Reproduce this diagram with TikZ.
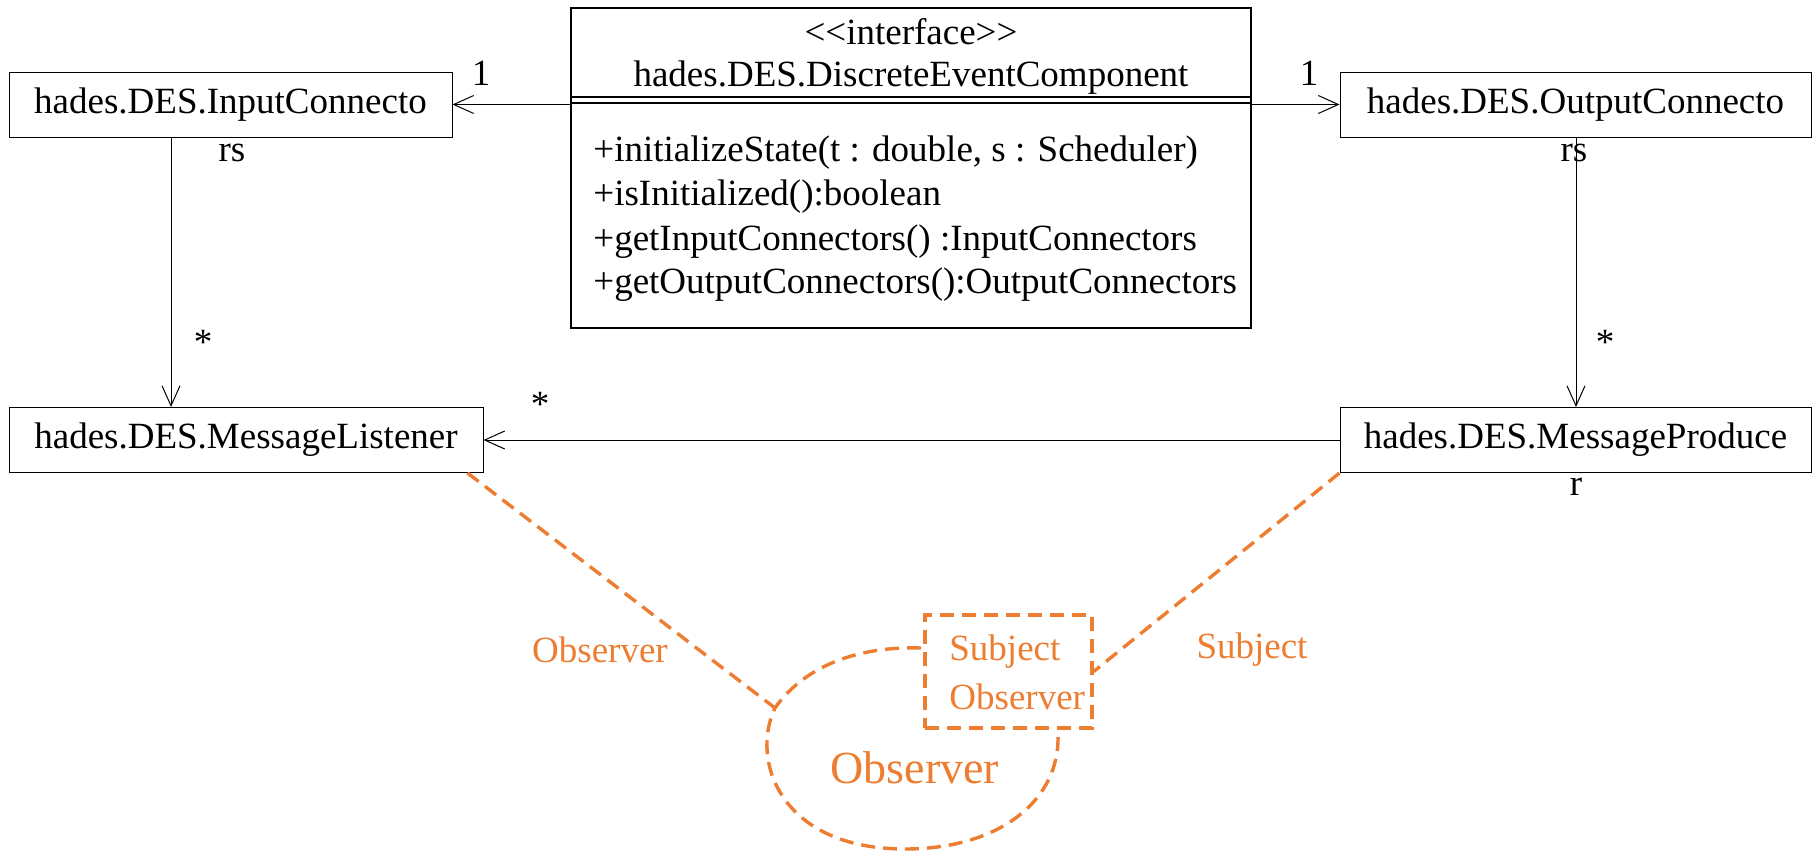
\documentclass[tikz,border=0pt]{standalone}
\usepackage{fontspec}
\setmainfont{Liberation Serif}
\usetikzlibrary{arrows.meta}
\definecolor{obs}{HTML}{ED7D31}
\begin{document}
\begin{tikzpicture}[x=0.5pt,y=-0.5pt,
  every node/.style={font=\fontsize{18.5}{22}\selectfont, inner sep=0pt},
  cls/.style={draw, line width=0.5pt, minimum height=32.5pt, inner sep=0pt},
  conn/.style={line width=0.5pt, -{Straight Barb[length=10pt,width=9pt]}},
  pat/.style={draw=obs, line width=1.7pt, dash pattern=on 7pt off 4pt},
  plabel/.style={text=obs},
]
\useasboundingbox (0,0) rectangle (1817,851);

% interface box
\node[draw, line width=1.1pt, minimum width=340pt, minimum height=160pt] (iface) at (911,168) {};
\node (st) at (911,32) {<\kern0pt<interface>\kern0pt>};
\node (ttl) at (911,78) {hades.DES.DiscreteEventComponent};
\coordinate (d1) at (0,97);
\coordinate (d2) at (0,103);
\draw[line width=1.1pt] (iface.west |- d1) -- (iface.east |- d1);
\draw[line width=1.1pt] (iface.west |- d2) -- (iface.east |- d2);
\node[anchor=west] (m1) at (593,153) {+initializeState(t : double, s : Scheduler)};
\node[anchor=west] (m2) at (593,197) {+isInitialized():boolean};
\node[anchor=west] (m3) at (593,242) {+getInputConnectors() :InputConnectors};
\node[anchor=west] (m4) at (593,285) {+getOutputConnectors():OutputConnectors};

% classes
\node[cls, minimum width=221.5pt] (inc) at (230.5,104.5) {hades.DES.InputConnecto};
\node[cls, minimum width=235.5pt] (outc) at (1575.5,104.5) {hades.DES.OutputConnecto};
\node[cls, minimum width=237pt] (ml) at (246,440) {hades.DES.MessageListener};
\node[cls, minimum width=235.5pt] (mp) at (1575.5,440) {hades.DES.MessageProduce};

% connectors
\coordinate (lx) at (171,0);
\coordinate (rx) at (1576,0);
\draw[conn] (iface.west |- inc.east) -- (inc.east);
\draw[conn] (iface.east |- outc.west) -- (outc.west);
\draw[conn] (lx |- inc.south) -- (lx |- ml.north);
\draw[conn] (rx |- outc.south) -- (rx |- mp.north);
\draw[conn] (mp.west) -- (ml.east);

% multiplicities
\node (l1) at (481,73) {1};
\node (r1) at (1309,73) {1};
\node (lrs) at (232,153) {rs};
\node (rrs) at (1574,153) {rs};
\node (ls) at (203,342) {*};
\node (rst) at (1605,342) {*};
\node (hst) at (540,404) {*};
\node (rr) at (1576,487) {r};

% pattern annotation
\node[pat, minimum width=83.5pt, minimum height=56.5pt] (sbox) at (1008.5,671.5) {};
\node[plabel, anchor=west] (sj) at (949,652) {Subject};
\node[plabel, anchor=west] (so) at (949,697) {Observer};
\node[plabel] (ol) at (600,650) {Observer};
\node[plabel] (sl) at (1252,650) {Subject};
\node[plabel, font=\fontsize{23}{28}\selectfont] (big) at (915,768) {Observer};

\coordinate (jn) at (775,708);
\coordinate (cs) at (921,648);
\coordinate (cb) at (905,849);
\coordinate (ce) at (1058,735);
\draw[pat] ([xshift=-8pt]ml.south east) -- (jn);
\draw[pat] (mp.south west) -- (sbox.east);
\draw[pat] (cs) .. controls (860,646) and (805,665) .. (jn)
  .. controls (750,760) and (780,849) .. (cb)
  .. controls (1000,849) and (1060,800) .. (ce);
\end{tikzpicture}
\end{document}
